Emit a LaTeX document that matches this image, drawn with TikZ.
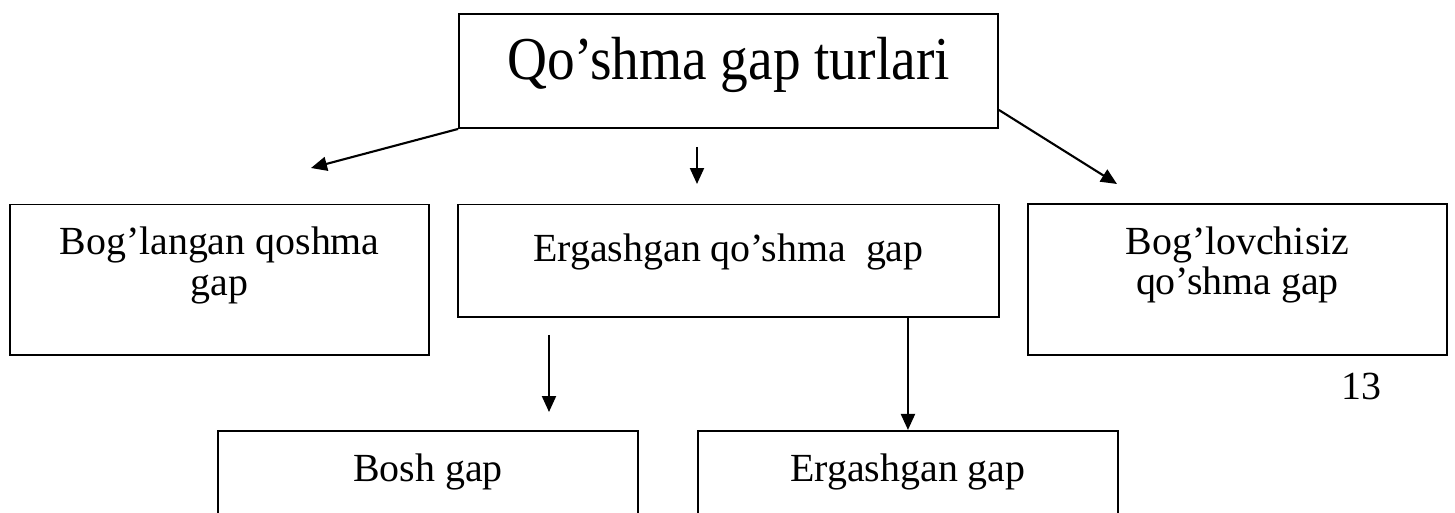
\documentclass[tikz,border=0pt]{standalone}
\usepackage{graphicx}
\usepackage{fontspec}
\setmainfont{Liberation Serif}
\usepackage{tikz}
\usetikzlibrary{arrows.meta}
\newcommand{\boxfont}{\fontsize{22.7pt}{23.3pt}\selectfont}
\newcommand{\titlefont}{\fontsize{31.5pt}{34pt}\selectfont}
\tikzstyle{title} = [rectangle, minimum width=10.78cm, minimum height=2.28cm, inner sep=0pt, text height=1.0cm, text depth=0.66cm, font=\titlefont, draw=black, line width=1.1pt]
\tikzstyle{box} = [rectangle, minimum width=10.82cm, minimum height=2.26cm, inner sep=0pt, text height=0.56cm, text depth=0.52cm, font=\boxfont, draw=black, line width=1.1pt]
\tikzstyle{sidebox} = [box, minimum width=8.38cm, minimum height=3.02cm, align=center, text height=1.2cm, text depth=0.58cm]
\tikzstyle{subbox} = [box, minimum width=8.4cm, text depth=0.78cm]
\tikzstyle{arrow} = [line width=1.2pt, -{Triangle[length=0.32cm, width=0.28cm]}]

\begin{document}
\begin{tikzpicture}[x=0.02cm, y=-0.02cm, node distance=3.8cm]
   \useasboundingbox (0,0) rectangle (1455,513);
   \clip (0,0) rectangle (1455,513);
   \node (q) [title] at (728.5,71) {\scalebox{1}[1.1]{Qo’shma gap turlari}};
   \node (e) [box, below of=q] {Ergashgan qo’shma\ \ gap};
   \node (b) [sidebox, below of=q, xshift=-10.18cm, yshift=-0.38cm] {Bog’langan qoshma\\gap};
   \node (l) [sidebox, below of=q, xshift=10.18cm, yshift=-0.37cm] {Bog’lovchisiz\\qo’shma gap};
   \node (bg) [subbox, below of=e, xshift=-6.01cm, yshift=-0.73cm] {Bosh gap};
   \node (eg) [subbox, below of=e, xshift=3.59cm, yshift=-0.73cm] {Ergashgan gap};
   \node (p) at (1361,386) {\boxfont 13};
   \coordinate (a1) at (311,168);
   \coordinate (a2) at (697,147);
   \coordinate (a3) at (697,184);
   \coordinate (a4) at ([yshift=0.38cm]q.south east);
   \coordinate (a5) at (1117,184);
   \coordinate (a6) at (549,335);
   \coordinate (a7) at (549,412);
   \draw [arrow] (q.south west) -- (a1);
   \draw [arrow] (a2) -- (a3);
   \draw [arrow] (a4) -- (a5);
   \draw [arrow] (a6) -- (a7);
   \draw [arrow] (eg.north |- e.south) -- (eg.north);
\end{tikzpicture}
\end{document}
